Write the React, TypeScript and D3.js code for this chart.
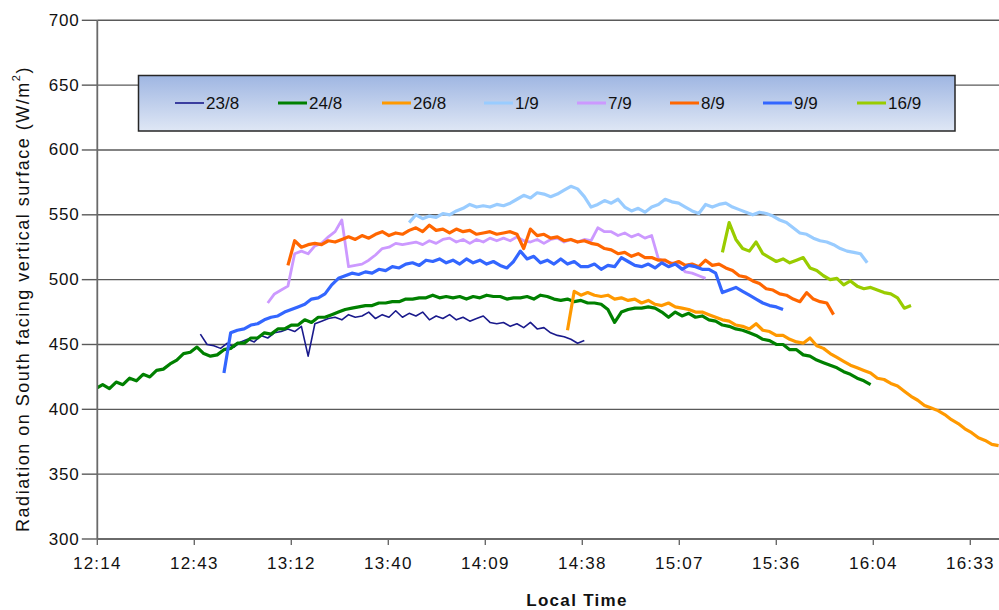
import React, { useEffect, useRef } from "react";
import * as d3 from "d3";

// ---------- DATA ----------
const seriesNames = ["23/8", "24/8", "26/8", "1/9", "7/9", "8/9", "9/9", "16/9"];
// start of each record, minutes after midnight (local time); samples every STEP minutes
const STEP = 2;
const seriesStart = [765, 734, 874, 827, 785, 791, 772, 920];

const v23_8 = [458,450,449,447,451,448,452,454,452,457,455,459,460,462,460,464,441,466,468,470,471,469,473,471,472,475,470,473,471,476,471,474,472,475,469,472,470,473,469,471,468,470,472,467,466,467,464,466,463,467,462,463,459,457,456,454,451,453];
const v24_8 = [416,419,416,421,419,424,422,427,425,430,431,435,438,443,444,448,443,441,442,446,447,451,451,455,455,459,458,462,462,465,465,469,467,471,471,473,475,477,478,479,480,480,482,482,483,483,485,485,486,486,488,486,487,486,487,485,487,486,488,487,487,485,486,486,487,485,488,487,485,484,485,483,484,482,482,481,477,467,475,477,478,478,479,478,475,471,475,472,474,471,472,469,468,465,464,462,461,459,457,454,453,450,450,446,446,442,441,438,436,434,432,429,427,424,422,419];
const v26_8 = [461,491,488,490,488,487,488,485,486,484,485,482,484,481,480,482,479,478,477,475,475,473,471,469,468,465,464,462,466,461,460,457,457,454,452,451,455,449,447,443,440,437,434,432,430,428,424,423,420,418,414,410,407,403,401,399,396,392,389,385,382,378,376,373,372];
const v1_9 = [544,550,547,549,548,551,550,553,555,558,556,557,556,558,557,559,562,565,563,567,566,564,566,569,572,570,564,556,558,561,559,562,556,553,555,552,556,558,562,560,559,556,553,551,558,556,558,559,556,554,552,550,552,551,549,546,544,540,536,535,532,530,529,527,524,522,521,520,513];
const v7_9 = [482,489,492,495,520,522,520,526,528,533,537,546,510,511,512,515,519,524,525,528,527,528,529,527,530,528,531,532,529,531,528,531,529,532,530,532,530,533,530,529,531,528,531,532,529,531,529,531,530,540,537,537,534,536,533,535,532,534,516,514,513,511,506,505,503,501];
const v8_9 = [511,530,525,527,528,527,530,529,531,533,531,534,532,535,537,534,536,535,538,540,537,542,538,539,536,539,537,538,535,536,537,535,536,537,535,524,539,534,535,532,533,530,531,529,530,528,527,524,523,520,521,518,520,517,517,515,515,512,514,511,512,510,515,511,512,509,507,503,502,499,497,493,492,489,488,485,483,490,485,483,482,473];
const v9_9 = [428,459,461,462,465,466,469,471,472,475,477,479,481,485,486,489,496,501,503,505,504,506,505,508,507,510,509,512,513,511,515,514,516,513,515,512,516,513,515,512,514,511,509,514,522,516,518,513,515,512,516,512,514,510,510,512,508,511,510,517,514,511,510,512,509,513,510,512,508,511,510,508,508,505,490,492,494,491,488,485,482,480,479,477];
const v16_9 = [521,544,531,524,522,529,520,517,514,516,513,515,517,509,507,503,500,501,496,499,495,493,494,492,490,489,486,478,480];

const seriesValues = [v23_8, v24_8, v26_8, v1_9, v7_9, v8_9, v9_9, v16_9];

const yTicks = [300, 350, 400, 450, 500, 550, 600, 650, 700];
const xTickValues = [0.51, 0.53, 0.55, 0.57, 0.59, 0.61, 0.63, 0.65, 0.67, 0.69]; // fraction of a day
const xTickLabels = ["12:14", "12:43", "13:12", "13:40", "14:09", "14:38", "15:07", "15:36", "16:04", "16:33"];

// ---------- STYLE ----------
const colors = ["#1a1a8c", "#008000", "#ff9900", "#99ccff", "#cc99ff", "#ff6600", "#3366ff", "#99cc00"];
const widths = [1.6, 3.2, 3.2, 3.2, 2.8, 3.2, 3.2, 3.2];
const FONT = "'Liberation Sans', Arial, sans-serif";

export default function App() {
  const ref = useRef<SVGSVGElement>(null);

  useEffect(() => {
    const W = 999, H = 610;
    const L = 97.3, T = 20.3, B = 539;
    const svg = d3.select(ref.current);
    svg.selectAll("*").remove();

    const x = d3.scaleLinear().domain([0.51, 0.70]).range([L, L + 9.5 * 97]);
    const y = d3.scaleLinear().domain([300, 700]).range([B, T]);

    const defs = svg.append("defs");
    const grad = defs.append("linearGradient").attr("id", "lg").attr("x1", 0).attr("y1", 0).attr("x2", 0).attr("y2", 1);
    grad.append("stop").attr("offset", "0%").attr("stop-color", "#9fb6e2");
    grad.append("stop").attr("offset", "100%").attr("stop-color", "#dfe7f5");
    defs.append("clipPath").attr("id", "clip").append("rect")
      .attr("x", L).attr("y", T - 5).attr("width", W - L + 30).attr("height", B - T + 5);

    svg.append("rect").attr("width", W).attr("height", H).attr("fill", "#fff");

    // gridlines and y ticks
    const g = svg.append("g");
    yTicks.forEach((t) => {
      if (t !== 300) {
        g.append("line").attr("x1", L).attr("x2", W).attr("y1", y(t)).attr("y2", y(t))
          .attr("stroke", "#5a5a5a").attr("stroke-width", 1.4);
      }
      g.append("line").attr("x1", L - 15.5).attr("x2", L).attr("y1", y(t)).attr("y2", y(t))
        .attr("stroke", "#5a5a5a").attr("stroke-width", 1.4);
      g.append("text").attr("x", 79.5).attr("y", y(t)).attr("text-anchor", "end")
        .attr("dominant-baseline", "central").attr("font-family", FONT).attr("font-size", 17)
        .attr("letter-spacing", 0.8).attr("fill", "#111").text(String(t));
    });

    // series
    const lines = svg.append("g").attr("clip-path", "url(#clip)");
    const lineGen = d3.line<[number, number]>().x((d) => x(d[0])).y((d) => y(d[1]));
    seriesValues.forEach((vals, i) => {
      const pts: [number, number][] = vals.map((v, k) => [(seriesStart[i] + k * STEP) / 1440, v]);
      lines.append("path").attr("d", lineGen(pts) as string).attr("fill", "none")
        .attr("stroke", colors[i]).attr("stroke-width", widths[i])
        .attr("stroke-linejoin", "round").attr("stroke-linecap", "butt");
    });

    // axes
    svg.append("line").attr("x1", L).attr("x2", L).attr("y1", T).attr("y2", B)
      .attr("stroke", "#6a6a6a").attr("stroke-width", 1.8);
    svg.append("line").attr("x1", L).attr("x2", W).attr("y1", B).attr("y2", B)
      .attr("stroke", "#6a6a6a").attr("stroke-width", 2.2);
    xTickValues.forEach((t, i) => {
      svg.append("line").attr("x1", x(t)).attr("x2", x(t)).attr("y1", B).attr("y2", B + 6)
        .attr("stroke", "#6a6a6a").attr("stroke-width", 1.4);
      svg.append("text").attr("x", x(t)).attr("y", 563).attr("text-anchor", "middle")
        .attr("dominant-baseline", "central").attr("font-family", FONT).attr("font-size", 17)
        .attr("letter-spacing", 1.2).attr("fill", "#111").text(xTickLabels[i]);
    });

    // axis titles
    svg.append("text").attr("x", 577).attr("y", 600).attr("text-anchor", "middle")
      .attr("dominant-baseline", "central").attr("font-family", FONT).attr("font-size", 17)
      .attr("font-weight", "bold").attr("letter-spacing", 1.3).attr("fill", "#111").text("Local Time");

    const yt = svg.append("text").attr("transform", "translate(23,299) rotate(-90)")
      .attr("text-anchor", "middle").attr("dominant-baseline", "central")
      .attr("font-family", FONT).attr("font-size", 18).attr("letter-spacing", 1.5).attr("fill", "#111");
    yt.append("tspan").text("Radiation on South facing vertical surface (W/m");
    yt.append("tspan").attr("font-size", 11).attr("dy", -7).text("2");
    yt.append("tspan").attr("dy", 7).text(")");

    // legend
    const lg = svg.append("g");
    lg.append("rect").attr("x", 138.5).attr("y", 75.5).attr("width", 816.5).attr("height", 55.5)
      .attr("fill", "url(#lg)").attr("stroke", "#262626").attr("stroke-width", 1.5);
    const legX = [175, 278, 382, 484, 577, 670, 763, 857];
    seriesNames.forEach((n, i) => {
      lg.append("line").attr("x1", legX[i]).attr("x2", legX[i] + 29).attr("y1", 103).attr("y2", 103)
        .attr("stroke", colors[i]).attr("stroke-width", i === 0 ? 1.6 : 3);
      lg.append("text").attr("x", legX[i] + 31).attr("y", 103).attr("dominant-baseline", "central")
        .attr("font-family", FONT).attr("font-size", 17).attr("fill", "#111").text(n);
    });
  }, []);

  return (
    <svg ref={ref} width={999} height={610}
      style={{ position: "absolute", left: 0, top: 0, display: "block", background: "#fff" }} />
  );
}
